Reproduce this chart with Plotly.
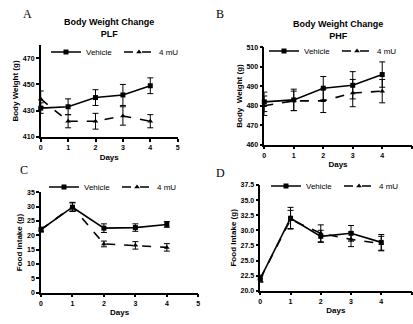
import plotly.graph_objects as go

days = [0, 1, 2, 3, 4]

# Panel A: Body weight PLF
a_veh = [432, 433, 440, 442, 449]
a_veh_err = [4, 6, 6, 8, 6]
a_mu = [439, 422, 422, 426, 422]
a_mu_err = [6, 5, 6, 7, 5]

# Panel B: Body weight PHF
b_veh = [482, 483, 489, 490.5, 496]
b_veh_err = [5, 5.5, 6, 7, 6.5]
b_mu = [480, 482.5, 482.5, 486.5, 487.5]
b_mu_err = [5, 5, 6, 7, 6]

# Panel C: Food intake PLF
c_veh = [22, 29.8, 22.5, 22.7, 23.8]
c_veh_err = [0.8, 1.5, 1.5, 1.3, 1.0]
c_mu = [22, 30, 17, 16.5, 15.8]
c_mu_err = [0.8, 1.5, 1.0, 1.3, 1.3]

# Panel D: Food intake PHF
d_veh = [22, 32, 29, 29.5, 28]
d_veh_err = [0.6, 1.8, 1.0, 1.3, 1.3]
d_mu = [22, 31.8, 29.5, 28.5, 27.8]
d_mu_err = [0.5, 1.5, 1.4, 1.2, 1.2]

series_names = ["Vehicle", "4 mU"]
panel_titles = {"A": "Body Weight Change<br>PLF", "B": "Body Weight Change<br>PHF"}

FONT = "Liberation Sans, Arial, sans-serif"
fig = go.Figure()

panels = [
    ("x", "y", "legend", a_veh, a_veh_err, a_mu, a_mu_err),
    ("x2", "y2", "legend2", b_veh, b_veh_err, b_mu, b_mu_err),
    ("x3", "y3", "legend3", c_veh, c_veh_err, c_mu, c_mu_err),
    ("x4", "y4", "legend4", d_veh, d_veh_err, d_mu, d_mu_err),
]

for xa, ya, lg, veh, veh_e, mu, mu_e in panels:
    fig.add_trace(go.Scatter(
        x=days, y=veh, name=series_names[0], xaxis=xa, yaxis=ya, legend=lg,
        mode="lines+markers",
        line=dict(color="black", width=1.6),
        marker=dict(symbol="square", size=5, color="black"),
        error_y=dict(type="data", array=veh_e, color="black", thickness=1, width=3),
        cliponaxis=False,
    ))
    fig.add_trace(go.Scatter(
        x=days, y=mu, name=series_names[1], xaxis=xa, yaxis=ya, legend=lg,
        mode="lines+markers",
        line=dict(color="black", width=1.6, dash="dash"),
        marker=dict(symbol="triangle-up", size=5, color="black"),
        error_y=dict(type="data", array=mu_e, color="black", thickness=1, width=3),
        cliponaxis=False,
    ))

W, H = 413, 324

def px(v):
    return v / W

def py(v):
    return 1 - v / H

tickfont = dict(family=FONT, size=7, color="black", weight="bold")
titlefont = dict(family=FONT, size=8, color="black", weight="bold")

def xaxis(dom, anchor):
    return dict(domain=dom, anchor=anchor, range=[0, 5], tickvals=[0, 1, 2, 3, 4, 5],
                showline=True, linecolor="black", linewidth=1.5, ticks="outside",
                ticklen=3, tickwidth=1.5, tickcolor="black", showgrid=False, zeroline=False,
                tickfont=tickfont, title=dict(text="Days", font=titlefont, standoff=4))

def yaxis(dom, anchor, rng, dtick, title, fmt=None):
    d = dict(domain=dom, anchor=anchor, range=rng, dtick=dtick, tick0=rng[0],
             showline=True, linecolor="black", linewidth=1.5, ticks="outside",
             ticklen=3, tickwidth=1.5, tickcolor="black", showgrid=False, zeroline=False,
             tickfont=tickfont, title=dict(text=title, font=titlefont, standoff=3))
    if fmt:
        d["tickformat"] = fmt
    return d

fig.update_layout(
    width=W, height=H, margin=dict(l=0, r=0, t=0, b=0, autoexpand=False),
    paper_bgcolor="white", plot_bgcolor="white",
    font=dict(family=FONT, color="black"),
    xaxis=xaxis([px(40.7), px(177.7)], "y"),
    yaxis=yaxis([py(137), py(45)], "x", [410, 480], 20, "Body Weight (g)"),
    xaxis2=xaxis([px(264.3), px(411.7)], "y2"),
    yaxis2=yaxis([py(144.7), py(47.3)], "x2", [460, 510], 10, "Body  Weight (g)"),
    xaxis3=xaxis([px(41), px(198.3)], "y3"),
    yaxis3=yaxis([py(292.7), py(192.3)], "x3", [0, 35], 5, "Food Intake (g)"),
    xaxis4=xaxis([px(260.3), px(411.5)], "y4"),
    yaxis4=yaxis([py(290.7), py(185)], "x4", [20, 37.5], 2.5, "Food Intake (g)", ".1f"),
)

legfont = dict(family=FONT, size=8, color="black")
def legend(x, y):
    return dict(x=x, y=y, xanchor="left", yanchor="middle", orientation="h",
                font=legfont, bgcolor="rgba(0,0,0,0)", borderwidth=0,
                itemwidth=30, tracegroupgap=0, entrywidth=28)

fig.update_layout(
    legend=legend(px(46), py(52)),
    legend2=legend(px(264), py(51)),
    legend3=legend(px(44), py(187)),
    legend4=legend(px(266), py(186)),
)

anns = []
anns.append(dict(text=panel_titles["A"], x=px(109), y=py(15), xref="paper", yref="paper",
                 xanchor="center", yanchor="top", showarrow=False,
                 font=dict(family=FONT, size=9, color="black", weight="bold")))
anns.append(dict(text=panel_titles["B"], x=px(338), y=py(17), xref="paper", yref="paper",
                 xanchor="center", yanchor="top", showarrow=False,
                 font=dict(family=FONT, size=9, color="black", weight="bold")))
for lab, x, y in [("A", 27, 14), ("B", 220, 14), ("C", 24, 170), ("D", 220, 173)]:
    anns.append(dict(text=lab, x=px(x), y=py(y), xref="paper", yref="paper",
                     xanchor="center", yanchor="middle", showarrow=False,
                     font=dict(family="Liberation Serif, Times New Roman, serif", size=12, color="black")))
fig.update_layout(annotations=anns)

fig.write_html("out.html", config={"displayModeBar": False},
               post_script="document.body.style.margin='0';document.body.style.overflow='hidden';")
